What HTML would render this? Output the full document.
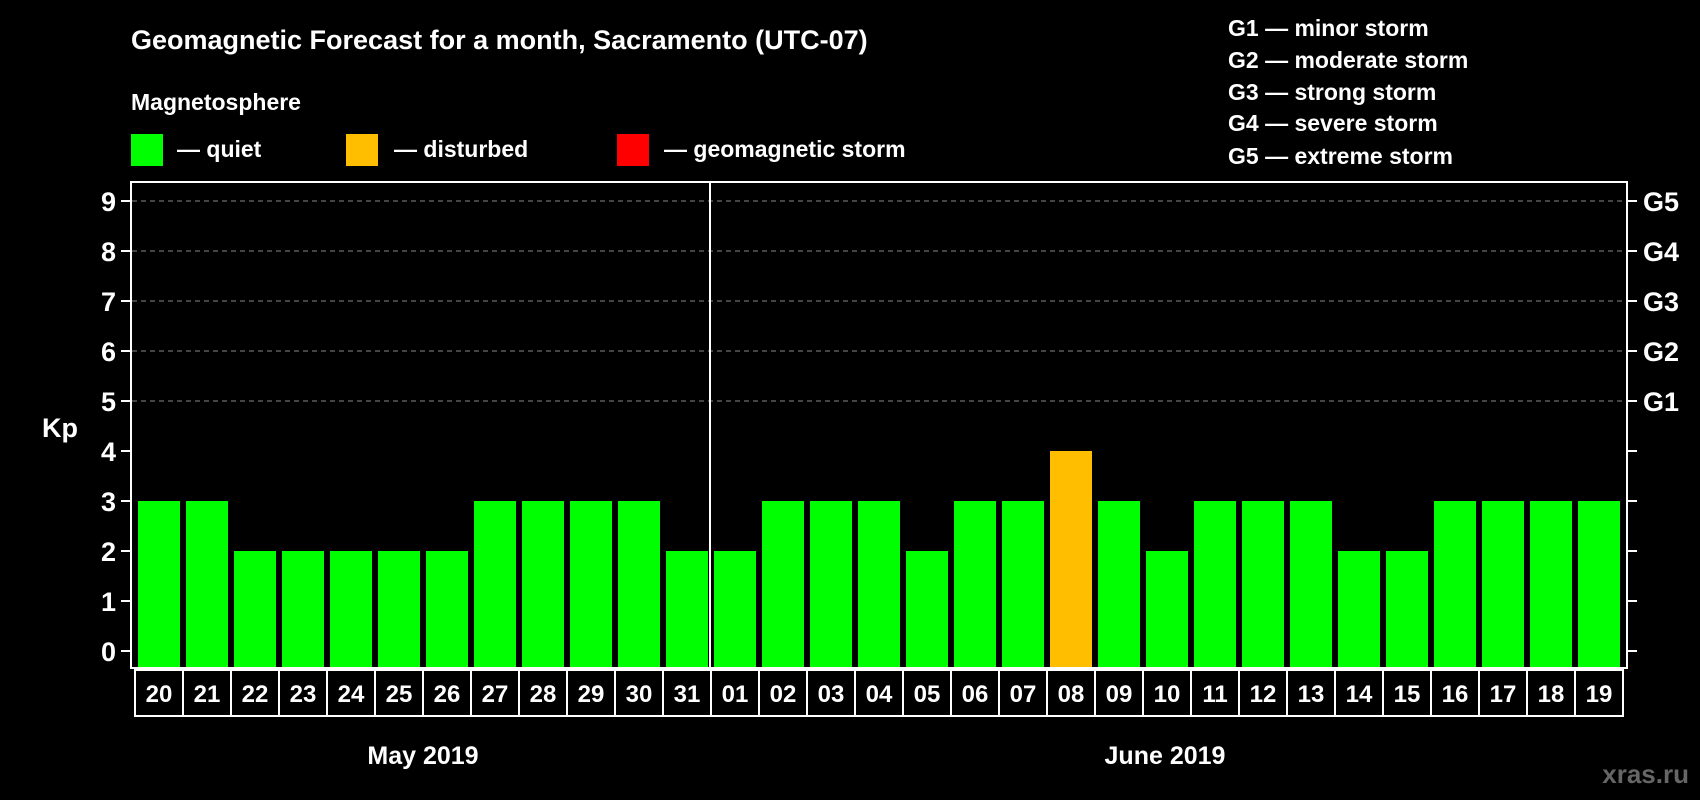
<!DOCTYPE html>
<html><head><meta charset="utf-8"><style>
html,body{margin:0;padding:0;background:#000;}
svg{display:block;font-family:"Liberation Sans",sans-serif;font-weight:bold;}
</style></head><body>
<svg id="chart" width="1700" height="800" viewBox="0 0 1700 800" xmlns="http://www.w3.org/2000/svg">
<rect width="1700" height="800" fill="#000"/>
<text x="131" y="49" fill="#fff" font-size="27">Geomagnetic Forecast for a month, Sacramento (UTC-07)</text>
<text x="131" y="110" fill="#fff" font-size="23">Magnetosphere</text>
<rect x="131" y="134" width="32" height="32" fill="#00ff00"/>
<text x="177" y="157" fill="#fff" font-size="23">— quiet</text>
<rect x="346" y="134" width="32" height="32" fill="#ffbf00"/>
<text x="394" y="157" fill="#fff" font-size="23">— disturbed</text>
<rect x="617" y="134" width="32" height="32" fill="#ff0000"/>
<text x="664" y="157" fill="#fff" font-size="23">— geomagnetic storm</text>
<g fill="#fff" font-size="23">
<text x="1228" y="36">G1 — minor storm</text>
<text x="1228" y="68">G2 — moderate storm</text>
<text x="1228" y="100">G3 — strong storm</text>
<text x="1228" y="131">G4 — severe storm</text>
<text x="1228" y="164">G5 — extreme storm</text>
</g>
<text x="42" y="437" fill="#fff" font-size="27">Kp</text>
<g id="grid"></g>
<g id="bars"></g>
<rect x="131" y="182" width="1496" height="486" fill="none" stroke="#fff" stroke-width="2"/>
<line x1="710" y1="182" x2="710" y2="668" stroke="#fff" stroke-width="2"/>
<g id="axes"></g>
<g id="labels"></g>
<text x="423" y="764" fill="#fff" font-size="25" text-anchor="middle">May 2019</text>
<text x="1165" y="764" fill="#fff" font-size="25" text-anchor="middle">June 2019</text>
<text x="1689" y="783" fill="#666" font-size="26" text-anchor="end">xras.ru</text>
</svg>
<script>
const days = ["20","21","22","23","24","25","26","27","28","29","30","31","01","02","03","04","05","06","07","08","09","10","11","12","13","14","15","16","17","18","19"];
const kpValues = [3,3,2,2,2,2,2,3,3,3,3,2,2,3,3,3,2,3,3,4,3,2,3,3,3,2,2,3,3,3,3];
const yTicks = [0,1,2,3,4,5,6,7,8,9];
const gLabels = ["G1","G2","G3","G4","G5"];
const gLevels = [5,6,7,8,9];

const NS = "http://www.w3.org/2000/svg";
const slot = 48, x0 = 138, barW = 42;
function xScale(i){ return x0 + i*slot; }
function yScale(v){ return 651 - v*50; }
function colorFor(v){ return v >= 5 ? "#ff0000" : (v >= 4 ? "#ffbf00" : "#00ff00"); }
function mk(tag, attrs, parent){ const e=document.createElementNS(NS,tag); for(const k in attrs) e.setAttribute(k,attrs[k]); parent.appendChild(e); return e; }

const grid=document.getElementById("grid"), bars=document.getElementById("bars"), axes=document.getElementById("axes"), labels=document.getElementById("labels");

gLevels.forEach(function(v){
  const l = mk("line",{x1:132,x2:1626,y1:yScale(v),y2:yScale(v),stroke:"#888","stroke-width":1,"stroke-dasharray":"5,4"},grid);
  
  
});

yTicks.forEach(function(v){
  const y=yScale(v);
  const t1 = mk("line",{x1:121,x2:131,y1:y,y2:y,stroke:"#fff","stroke-width":2},axes);
  
  
  const t2 = mk("line",{x1:1627,x2:1637,y1:y,y2:y,stroke:"#fff","stroke-width":2},axes);
  
  
  const tx = mk("text",{x:116,y:y+10,fill:"#fff","font-size":27,"text-anchor":"end"},axes);
  tx.textContent = String(v);
  
  
});

gLabels.forEach(function(g,i){
  const tx = mk("text",{x:1643,y:yScale(gLevels[i])+10,fill:"#fff","font-size":27},axes);
  tx.textContent = g;
  
  
});

kpValues.forEach(function(v,i){
  const top=yScale(v);
  const b = mk("rect",{x:xScale(i),y:top,width:barW,height:668-top,fill:colorFor(v)},bars);
  
  
});

days.forEach(function(d,i){
  const bx = xScale(i) - 3;
  const r = mk("rect",{x:bx,y:670,width:slot,height:46,fill:"none",stroke:"#fff","stroke-width":2},labels);
  
  
  const t = mk("text",{x:bx+slot/2,y:702,fill:"#fff","font-size":24,"text-anchor":"middle"},labels);
  t.textContent = d;
  
  
});
</script>
</body></html>
